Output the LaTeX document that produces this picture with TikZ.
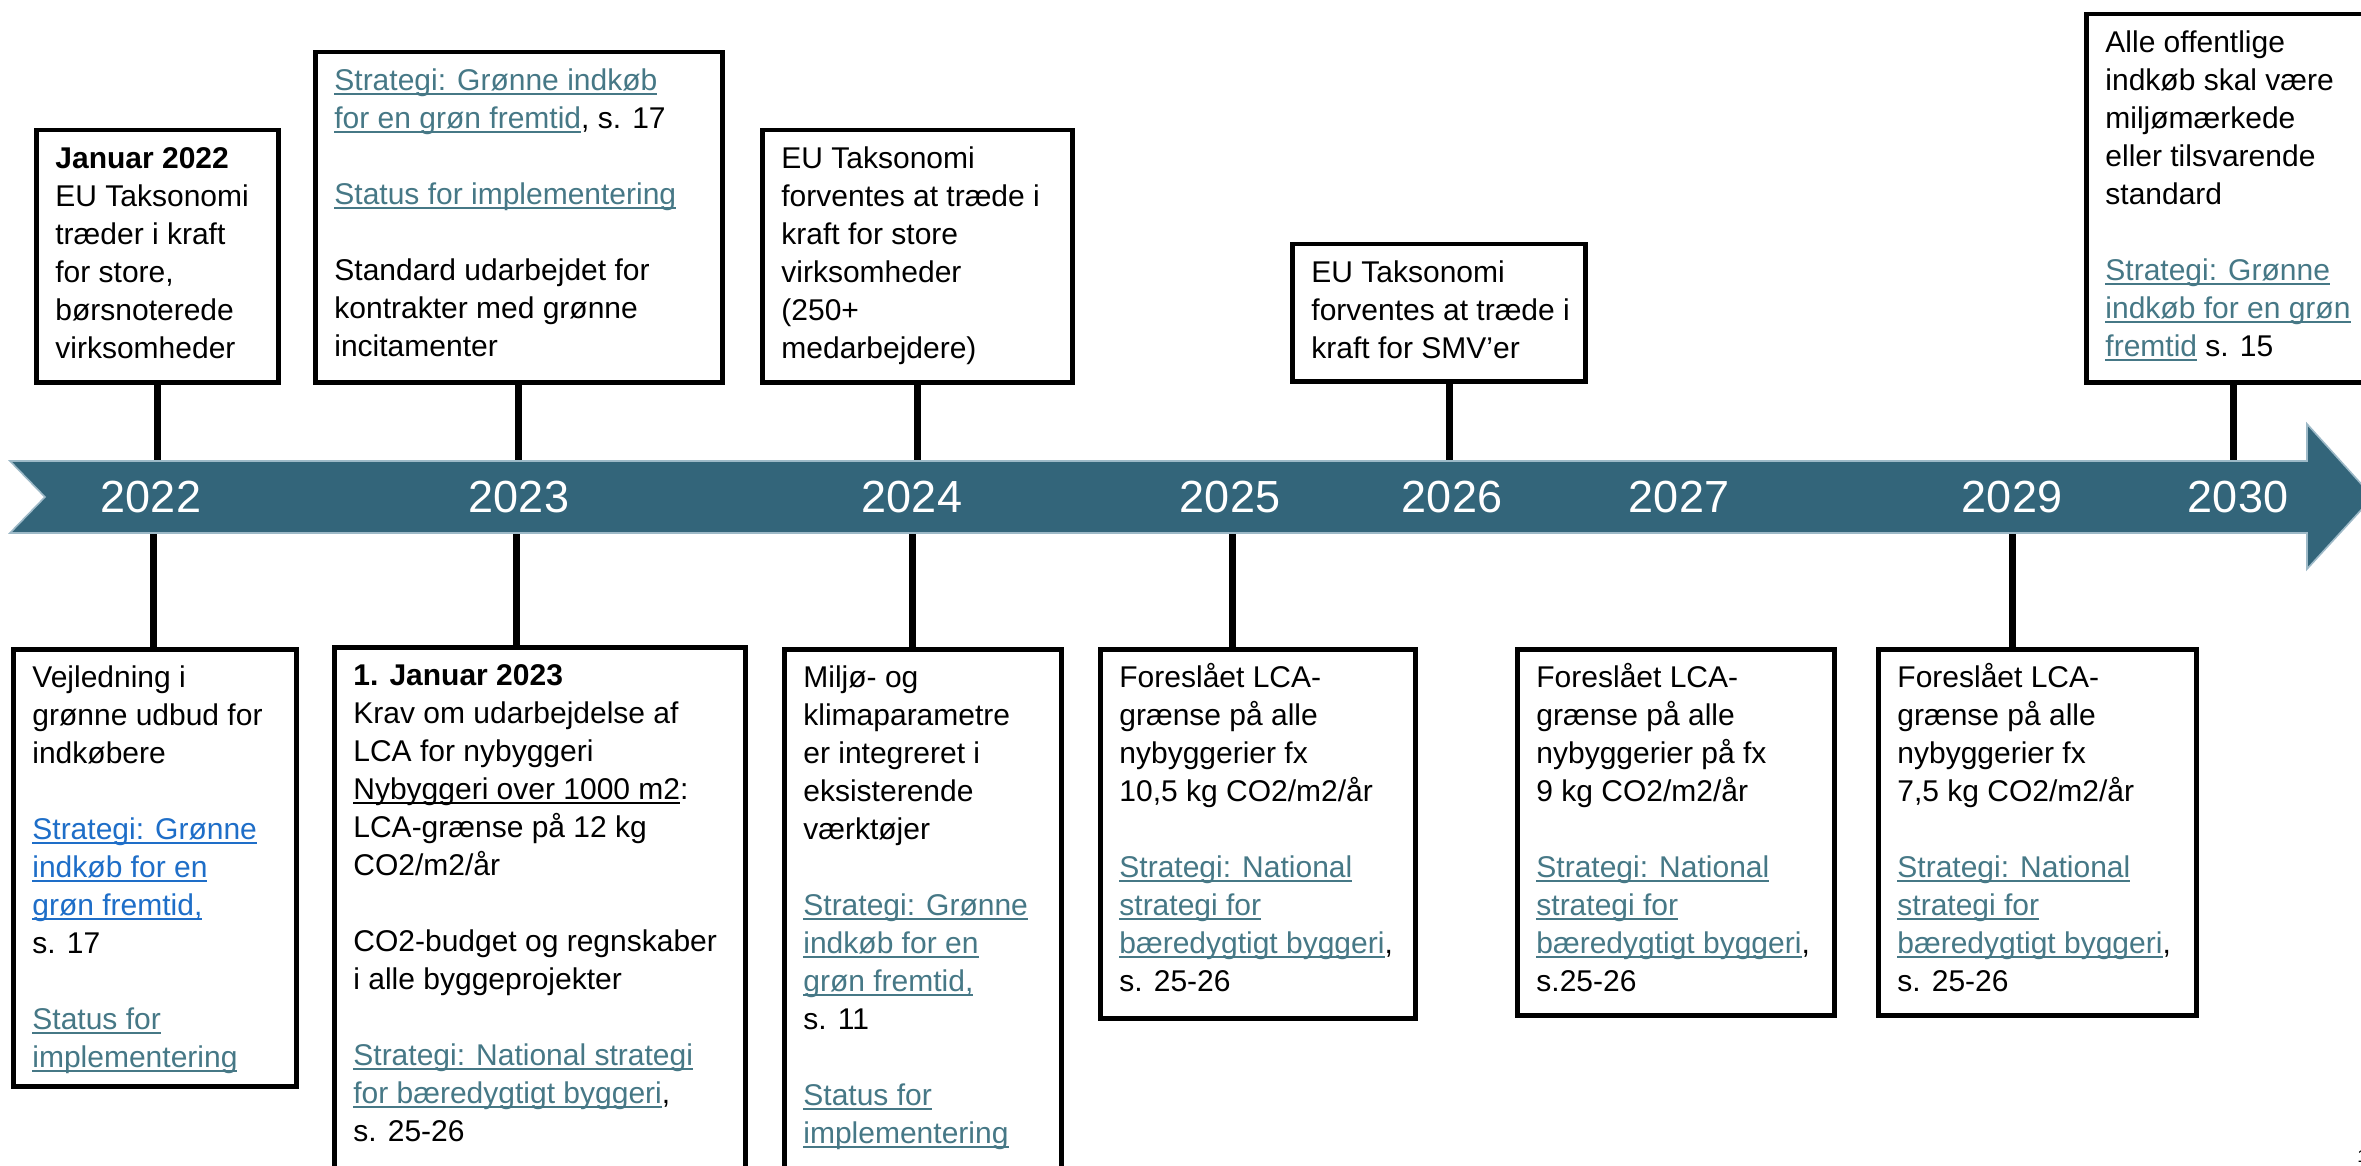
\documentclass[tikz,border=0pt]{standalone}
\usepackage{fontspec}
\setmainfont{Liberation Sans}
\definecolor{bandc}{HTML}{33657A}
\definecolor{bandedge}{HTML}{9DB9C7}
\definecolor{lnk}{HTML}{467886}
\definecolor{lnkb}{HTML}{1E6EC8}
\newcommand\lkul[1]{\setbox0\hbox{#1}\rlap{\rule[-2.3pt]{\wd0}{1pt}}\box0}
\newcommand\lk[1]{{\color{lnk}\lkul{#1}}}
\newcommand\lkb[1]{{\color{lnkb}\lkul{#1}}}
\tikzset{
  boxst/.style={draw=black, line width=2.25pt, fill=white, inner sep=0pt, anchor=north west},
  txtst/.style={inner sep=0pt, anchor=north west},
  stemst/.style={line width=3.5pt},
  yrst/.style={text=white, inner sep=0pt, font=\fontsize{22.5}{27}\selectfont},
}
\newcommand\bx[5]{\node[boxst, minimum width=#4*0.5pt, minimum height=#5*0.5pt] (#1) at (#2,#3) {};}
\newcommand\tx[4]{\node[txtst] (#1) at (#2,#3) {\begin{minipage}[t]{300pt}\fontsize{15}{19}\selectfont\rule{0pt}{20pt}#4\end{minipage}};}
\begin{document}
\begin{tikzpicture}[x=0.5pt,y=-0.5pt]
\useasboundingbox (0,0) rectangle (2361,1166);
\fill[white] (0,0) rectangle (2361,1166);
\coordinate (bt) at (0,461);
\coordinate (bb) at (0,533);

% top boxes
\bx{T1}{34}{128}{242}{252}
\tx{T1t}{55}{128}{\textbf{Januar 2022}\\EU Taksonomi\\træder i kraft\\for store,\\børsnoterede\\virksomheder}
\bx{T2}{313}{50}{407}{330}
\tx{T2t}{334}{50}{\lk{Strategi: Grønne indkøb}\\\lk{for en grøn fremtid}, s. 17\\[19pt]\lk{Status for implementering}\\[19pt]Standard udarbejdet for\\kontrakter med grønne\\incitamenter}
\bx{T3}{760}{128}{310}{252}
\tx{T3t}{781}{128}{EU Taksonomi\\forventes at træde i\\kraft for store\\virksomheder\\(250+\\medarbejdere)}
\bx{T4}{1290}{242}{293}{137}
\tx{T4t}{1311}{242}{EU Taksonomi\\forventes at træde i\\kraft for SMV’er}
\bx{T5}{2084}{12}{294}{368}
\tx{T5t}{2105}{12}{Alle offentlige\\indkøb skal være\\miljømærkede\\eller tilsvarende\\standard\\[19pt]\lk{Strategi: Grønne}\\\lk{indkøb for en grøn}\\\lk{fremtid} s. 15}

% bottom boxes
\bx{B1}{11}{647}{283}{437}
\tx{B1t}{32}{647}{Vejledning i\\grønne udbud for\\indkøbere\\[19pt]\lkb{Strategi: Grønne}\\\lkb{indkøb for en}\\\lkb{grøn fremtid,}\\s. 17\\[19pt]\lk{Status for}\\\lk{implementering}}
\bx{B2}{332}{645}{411}{560}
\tx{B2t}{353}{645}{\textbf{1. Januar 2023}\\Krav om udarbejdelse af\\LCA for nybyggeri\\\lkul{Nybyggeri over 1000 m2}:\\LCA-grænse på 12 kg\\CO2/m2/år\\[19pt]CO2-budget og regnskaber\\i alle byggeprojekter\\[19pt]\lk{Strategi: National strategi}\\\lk{for bæredygtigt byggeri},\\s. 25-26}
\bx{B3}{782}{647}{277}{560}
\tx{B3t}{803}{647}{Miljø- og\\klimaparametre\\er integreret i\\eksisterende\\værktøjer\\[19pt]\lk{Strategi: Grønne}\\\lk{indkøb for en}\\\lk{grøn fremtid,}\\s. 11\\[19pt]\lk{Status for}\\\lk{implementering}}
\bx{B4}{1098}{647}{315}{369}
\tx{B4t}{1119}{647}{Foreslået LCA-\\grænse på alle\\nybyggerier fx\\10,5 kg CO2/m2/år\\[19pt]\lk{Strategi: National}\\\lk{strategi for}\\\lk{bæredygtigt byggeri},\\s. 25-26}
\bx{B5}{1515}{647}{317}{366}
\tx{B5t}{1536}{647}{Foreslået LCA-\\grænse på alle\\nybyggerier på fx\\9 kg CO2/m2/år\\[19pt]\lk{Strategi: National}\\\lk{strategi for}\\\lk{bæredygtigt byggeri},\\s.25-26}
\bx{B6}{1876}{647}{318}{366}
\tx{B6t}{1897}{647}{Foreslået LCA-\\grænse på alle\\nybyggerier fx\\7,5 kg CO2/m2/år\\[19pt]\lk{Strategi: National}\\\lk{strategi for}\\\lk{bæredygtigt byggeri},\\s. 25-26}

% stems
\coordinate (t4s) at (1449,461);
\coordinate (s1) at (153,533);
\coordinate (s2) at (516,533);
\coordinate (s3) at (912,533);
\coordinate (s4) at (1232,533);
\coordinate (s6) at (2012,533);
\draw[stemst] (T1.south) -- (T1.south |- bt);
\draw[stemst] (T2.south) -- (T2.south |- bt);
\draw[stemst] (T3.south) -- (T3.south |- bt);
\draw[stemst] (t4s |- T4.south) -- (t4s);
\draw[stemst] (T5.south) -- (T5.south |- bt);
\draw[stemst] (s1) -- (s1 |- B1.north);
\draw[stemst] (s2) -- (s2 |- B2.north);
\draw[stemst] (s3) -- (s3 |- B3.north);
\draw[stemst] (s4) -- (s4 |- B4.north);
\draw[stemst] (s6) -- (s6 |- B6.north);

% band
\filldraw[fill=bandc, draw=bandedge, line width=0.8pt]
  (10,461) -- (2307,461) -- (2307,424) -- (2373,497) -- (2307,569) -- (2307,533) -- (10,533) -- (45,497) -- cycle;
\node[yrst] (y22) at (151,497) {2022};
\node[yrst] (y23) at (519,497) {2023};
\node[yrst] (y24) at (912,497) {2024};
\node[yrst] (y25) at (1230,497) {2025};
\node[yrst] (y26) at (1452,497) {2026};
\node[yrst] (y27) at (1679,497) {2027};
\node[yrst] (y29) at (2012,497) {2029};
\node[yrst] (y30) at (2238,497) {2030};
\node[inner sep=0pt, anchor=base west, font=\fontsize{9}{9}\selectfont] (pg) at (2357,1162) {1};
\end{tikzpicture}
\end{document}
